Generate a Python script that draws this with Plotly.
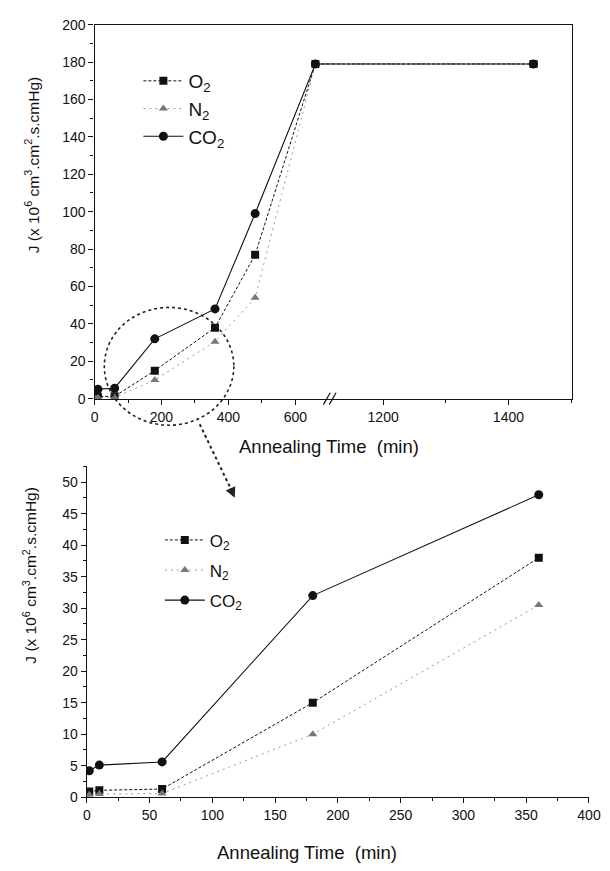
"""Permeation flux vs annealing time, full range and zoomed view."""

import plotly.graph_objects as go

W, H = 610, 871
FONT = "Liberation Sans, Arial, sans-serif"

# annealing time (min) and flux J (x 10^6 cm3.cm2.s.cmHg)
TIME = [2, 10, 60, 180, 360, 480, 660, 1440]
O2 = [0.9, 1.1, 1.3, 15, 38, 77, 179, 179]
N2 = [0.4, 0.5, 0.6, 10, 30.5, 54, 179, 179]
CO2 = [4.2, 5.1, 5.6, 32, 48, 99, 179, 179]
ZOOM_MAX = 360

NAMES = ["O<sub>2</sub>", "N<sub>2</sub>", "CO<sub>2</sub>"]
STYLES = [
    dict(line=dict(color="#111", width=1, dash="3px,2px"),
         marker=dict(symbol="square", size=8, color="#111")),
    dict(line=dict(color="#999", width=1, dash="2px,4px"),
         marker=dict(symbol="triangle-up", size=8, color="#777")),
    dict(line=dict(color="#111", width=1.1),
         marker=dict(symbol="circle", size=9, color="#111")),
]
Y_TITLE = "J (x 10<sup>6</sup> cm<sup>3</sup>.cm<sup>2</sup>.s.cmHg)"


def px_x(p):
    return p / W


def px_y(p):
    return (H - p) / H


def main():
    fig = go.Figure()
    series = [O2, N2, CO2]

    for name, vals, st in zip(NAMES, series, STYLES):
        # top, left part of broken axis
        fig.add_trace(go.Scatter(x=TIME, y=vals, name=name, mode="lines+markers",
                                 xaxis="x", yaxis="y", legend="legend", **st))
        # top, right part of broken axis
        fig.add_trace(go.Scatter(x=TIME, y=vals, name=name, mode="lines+markers",
                                 xaxis="x3", yaxis="y3", showlegend=False, **st))
        # bottom, zoomed view
        t = [x for x in TIME if x <= ZOOM_MAX]
        v = [y for x, y in zip(TIME, vals) if x <= ZOOM_MAX]
        fig.add_trace(go.Scatter(x=t, y=v, name=name, mode="lines+markers",
                                 xaxis="x2", yaxis="y2", legend="legend2",
                                 legendgroup=name + "b", **st))

    tick_font = dict(family=FONT, size=14, color="#111")
    ax = dict(showline=True, linecolor="#111", linewidth=1.2, showgrid=False,
              zeroline=False, ticks="outside", ticklen=5, tickcolor="#111",
              tickfont=tick_font, ticklabeloverflow="allow")

    brk = px_x(336.6)
    top_dom = [px_y(398), px_y(17)]
    fig.update_layout(
        width=W, height=H, autosize=False,
        margin=dict(l=0, r=0, t=0, b=0),
        paper_bgcolor="white", plot_bgcolor="white",
        font=dict(family=FONT, color="#111"),
        xaxis=dict(ax, domain=[px_x(93), brk], range=[0, 709], anchor="y",
                   tickvals=[0, 200, 400, 600], mirror=True,
                   minor=dict(tickvals=[100, 300, 500], ticks="outside", ticklen=3)),
        xaxis3=dict(ax, domain=[brk, px_x(583)], range=[1118, 1501], anchor="y3",
                    tickvals=[1200, 1400], mirror=True,
                    minor=dict(tickvals=[1300, 1500], ticks="outside", ticklen=3)),
        yaxis=dict(ax, domain=top_dom, range=[0, 200], anchor="x", dtick=20,
                   minor=dict(dtick=10, ticks="outside", ticklen=3)),
        yaxis3=dict(ax, domain=top_dom, range=[0, 200], anchor="x3", side="right",
                    ticks="", showticklabels=False),
        xaxis2=dict(ax, domain=[px_x(85), px_x(601)], range=[0, 400.2], anchor="y2",
                    dtick=50, minor=dict(dtick=25, ticks="outside", ticklen=3)),
        yaxis2=dict(ax, domain=[px_y(804), px_y(467)], range=[0, 52.5], anchor="x2",
                    dtick=5, minor=dict(dtick=2.5, ticks="outside", ticklen=3)),
        legend=dict(x=px_x(138), y=px_y(55), xanchor="left", yanchor="top",
                    bgcolor="rgba(0,0,0,0)", font=dict(family=FONT, size=19),
                    tracegroupgap=0, itemwidth=40),
        legend2=dict(x=px_x(160), y=px_y(524), xanchor="left", yanchor="top",
                     bgcolor="rgba(0,0,0,0)", font=dict(family=FONT, size=17),
                     tracegroupgap=5, itemwidth=40),
    )

    title_font = dict(family=FONT, size=18.5, color="#111")
    fig.add_annotation(text="Annealing Time  (min)", xref="paper", yref="paper",
                       x=px_x(334), y=px_y(447), showarrow=False, font=title_font,
                       xanchor="center", yanchor="middle")
    fig.add_annotation(text="Annealing Time  (min)", xref="paper", yref="paper",
                       x=px_x(311), y=px_y(860), showarrow=False, font=title_font,
                       xanchor="center", yanchor="middle")
    for xc, yc in ((29, 160), (27, 578)):
        fig.add_annotation(text=Y_TITLE, xref="paper", yref="paper", textangle=-90,
                           x=px_x(xc), y=px_y(yc), showarrow=False,
                           xanchor="center", yanchor="middle",
                           font=dict(family=FONT, size=15.5, color="#111"))

    # axis break marks
    for dx in (-4, 2):
        fig.add_shape(type="line", xref="paper", yref="paper",
                      x0=px_x(332 + dx), y0=px_y(404), x1=px_x(339 + dx), y1=px_y(392),
                      line=dict(color="#111", width=1.2))

    # dotted circle and arrow pointing to the zoomed view
    fig.add_shape(type="circle", xref="paper", yref="paper",
                  x0=px_x(103), x1=px_x(236), y0=px_y(425), y1=px_y(305),
                  line=dict(color="#222", width=1.6, dash="dot"))
    fig.add_shape(type="line", xref="paper", yref="paper",
                  x0=px_x(201), y0=px_y(424), x1=px_x(233), y1=px_y(490),
                  line=dict(color="#222", width=2, dash="dot"))
    fig.add_annotation(x=px_x(237), y=px_y(499), xref="paper", yref="paper",
                       ax=-5, ay=-11, showarrow=True, arrowhead=2, arrowsize=1.3,
                       arrowwidth=1.6, arrowcolor="#222", text="")

    # page margin off so the figure sits at the window origin
    fig.write_html("out.html", config={"displayModeBar": False},
                   post_script="document.body.style.margin='0';"
                               "document.body.style.overflow='hidden';")


if __name__ == "__main__":
    main()
